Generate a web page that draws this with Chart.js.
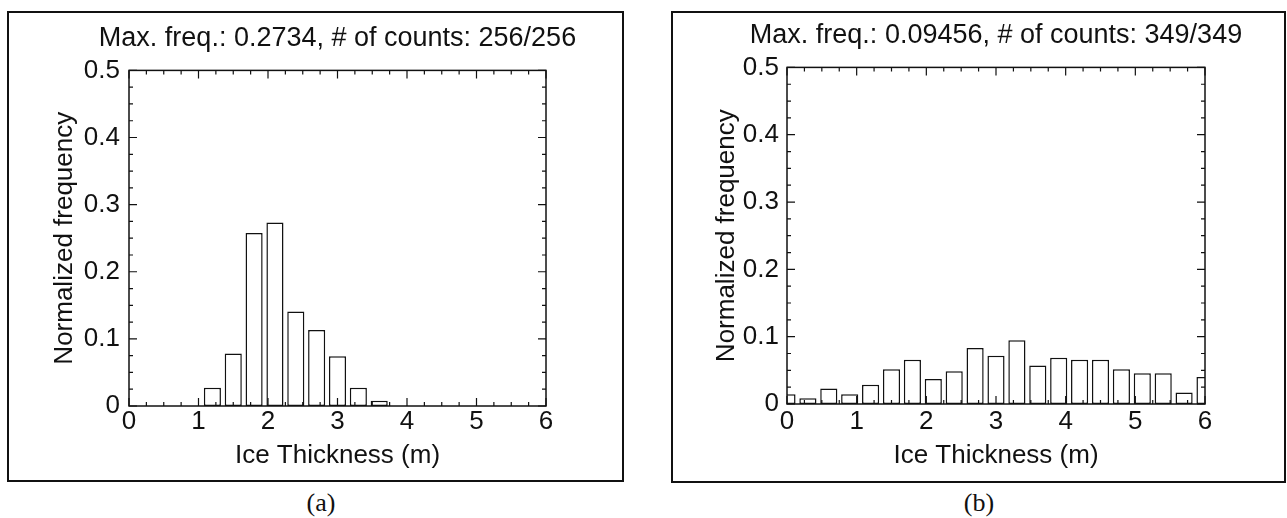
<!DOCTYPE html>
<html><head><meta charset="utf-8">
<script src="https://cdn.jsdelivr.net/npm/chart.js@4.4.1/dist/chart.umd.min.js"></script>
<style>
html,body{margin:0;padding:0;background:#fff;width:1287px;height:518px;overflow:hidden;}
.box{position:absolute;border:2px solid #111;box-sizing:border-box;}
.wrap{position:absolute;}
.cap{position:absolute;font-family:"Liberation Serif","DejaVu Serif",serif;font-size:26px;color:#111;transform:translate(-50%,-50%);white-space:nowrap;}
</style></head><body>
<div class="box" style="left:7px;top:11px;width:617px;height:471px;"></div>
<div class="box" style="left:671px;top:11px;width:615px;height:472px;"></div>
<div class="wrap" style="left:7px;top:11px;width:616px;height:470px;"><canvas id="ca" width="616" height="470"></canvas></div>
<div class="wrap" style="left:671px;top:11px;width:614px;height:471px;"><canvas id="cb" width="614" height="471"></canvas></div>
<div class="cap" style="left:321px;top:503px;">(a)</div>
<div class="cap" style="left:979px;top:503px;">(b)</div>
<script>
// ---- data ----
const xTickLabels = [0, 1, 2, 3, 4, 5, 6];
const yTickLabels = [0, 0.1, 0.2, 0.3, 0.4, 0.5];
const titleA = "Max. freq.: 0.2734, # of counts: 256/256";
const titleB = "Max. freq.: 0.09456, # of counts: 349/349";
const xTitle = "Ice Thickness (m)";
const yTitle = "Normalized frequency";
const binsA = [1.2, 1.5, 1.8, 2.1, 2.4, 2.7, 3.0, 3.3, 3.6];
const freqA = [0.02734, 0.07813, 0.25781, 0.27344, 0.14063, 0.11328, 0.07422, 0.02734, 0.00781];
const binsB = [0, 0.3, 0.6, 0.9, 1.2, 1.5, 1.8, 2.1, 2.4, 2.7, 3.0, 3.3, 3.6, 3.9, 4.2, 4.5, 4.8, 5.1, 5.4, 5.7, 6.0];
const freqB = [0.01433, 0.00860, 0.02292, 0.01433, 0.02865, 0.05158, 0.06590, 0.03725, 0.04871, 0.08309, 0.07163, 0.09456, 0.05731, 0.06877, 0.06590, 0.06590, 0.05158, 0.04585, 0.04585, 0.01719, 0.04011];
const xMinorStep = 0.25;
const yMinorStep = 0.025;

const FONT = '"Liberation Sans", Arial, Helvetica, sans-serif';
const INK = '#111';

// let the title (centred over the plot area) be wider than the plot area
const wideTitle = {
  id: 'wideTitle',
  afterLayout(chart) {
    const t = chart.titleBlock;
    if (!t) return;
    const c = (chart.chartArea.left + chart.chartArea.right) / 2;
    t.left = c - 400; t.right = c + 400; t.width = 800;
  }
};

const frameTicks = {
  id: 'frameTicks',
  afterDatasetsDraw(chart) {
    const {ctx, chartArea: a, scales: {x, y}} = chart;
    ctx.save();
    ctx.strokeStyle = INK;
    ctx.lineWidth = 1.5;
    ctx.strokeRect(a.left, a.top, a.right - a.left, a.bottom - a.top);
    ctx.lineWidth = 1.2;
    ctx.beginPath();
    const nx = Math.round((x.max - x.min) / xMinorStep);
    for (let i = 0; i <= nx; i++) {
      const px = x.getPixelForValue(x.min + i * xMinorStep);
      const len = (i % 4 === 0) ? 8 : 4;
      ctx.moveTo(px, a.bottom); ctx.lineTo(px, a.bottom - len);
      ctx.moveTo(px, a.top); ctx.lineTo(px, a.top + len);
    }
    const ny = Math.round((y.max - y.min) / yMinorStep);
    for (let i = 0; i <= ny; i++) {
      const py = y.getPixelForValue(y.min + i * yMinorStep);
      const len = (i % 4 === 0) ? 8 : 4;
      ctx.moveTo(a.left, py); ctx.lineTo(a.left + len, py);
      ctx.moveTo(a.right, py); ctx.lineTo(a.right - len, py);
    }
    ctx.stroke();
    ctx.restore();
  }
};

function makeChart(id, bins, freq, title, L) {
  return new Chart(document.getElementById(id), {
    type: 'bar',
    data: {
      datasets: [{
        data: bins.map((b, i) => ({x: b, y: freq[i]})),
        backgroundColor: '#fff',
        borderColor: INK,
        borderWidth: 1.5,
        borderSkipped: false,
        categoryPercentage: 1.0,
        barPercentage: 0.82,
        clip: 0
      }]
    },
    options: {
      responsive: false,
      animation: false,
      events: [],
      layout: {padding: {left: 0, right: L.right, top: 0, bottom: 0}},
      plugins: {
        legend: {display: false},
        tooltip: {enabled: false},
        title: {
          display: true, text: title, color: INK, fullSize: false,
          font: {family: FONT, size: 27, weight: 'normal'},
          padding: {top: L.titleTop, bottom: L.titleBottom}
        }
      },
      scales: {
        x: {
          type: 'linear', min: 0, max: 6, offset: false,
          afterBuildTicks: s => { s.ticks = xTickLabels.map(v => ({value: v})); },
          afterFit: s => { s.height = L.xHeight; },
          grid: {display: false, drawTicks: false, offset: false},
          border: {display: false},
          ticks: {color: INK, padding: L.xPad, font: {family: FONT, size: 26}, maxRotation: 0, autoSkip: false},
          title: {display: true, text: xTitle, color: INK, font: {family: FONT, size: 26}, padding: {top: 0, bottom: L.xTitleBottom}}
        },
        y: {
          type: 'linear', min: 0, max: 0.5,
          afterBuildTicks: s => { s.ticks = yTickLabels.map(v => ({value: v})); },
          afterFit: s => { s.width = L.yWidth; },
          grid: {display: false, drawTicks: false},
          border: {display: false},
          ticks: {color: INK, padding: L.yPad, font: {family: FONT, size: 26}, callback: v => String(v)},
          title: {display: true, text: yTitle, color: INK, font: {family: FONT, size: 26}, padding: {top: L.yTitleTop, bottom: 0}}
        }
      }
    },
    plugins: [wideTitle, frameTicks]
  });
}

makeChart('ca', binsA, freqA, titleA, {right: 77, titleTop: 11, titleBottom: 16, xHeight: 75, xPad: 0, xTitleBottom: 9.4, yWidth: 122, yPad: 9, yTitleTop: 42.4});
makeChart('cb', binsB, freqB, titleB, {right: 80, titleTop: 8, titleBottom: 16, xHeight: 78, xPad: 2, xTitleBottom: 10.4, yWidth: 116, yPad: 8, yTitleTop: 40.4});
</script>
</body></html>
